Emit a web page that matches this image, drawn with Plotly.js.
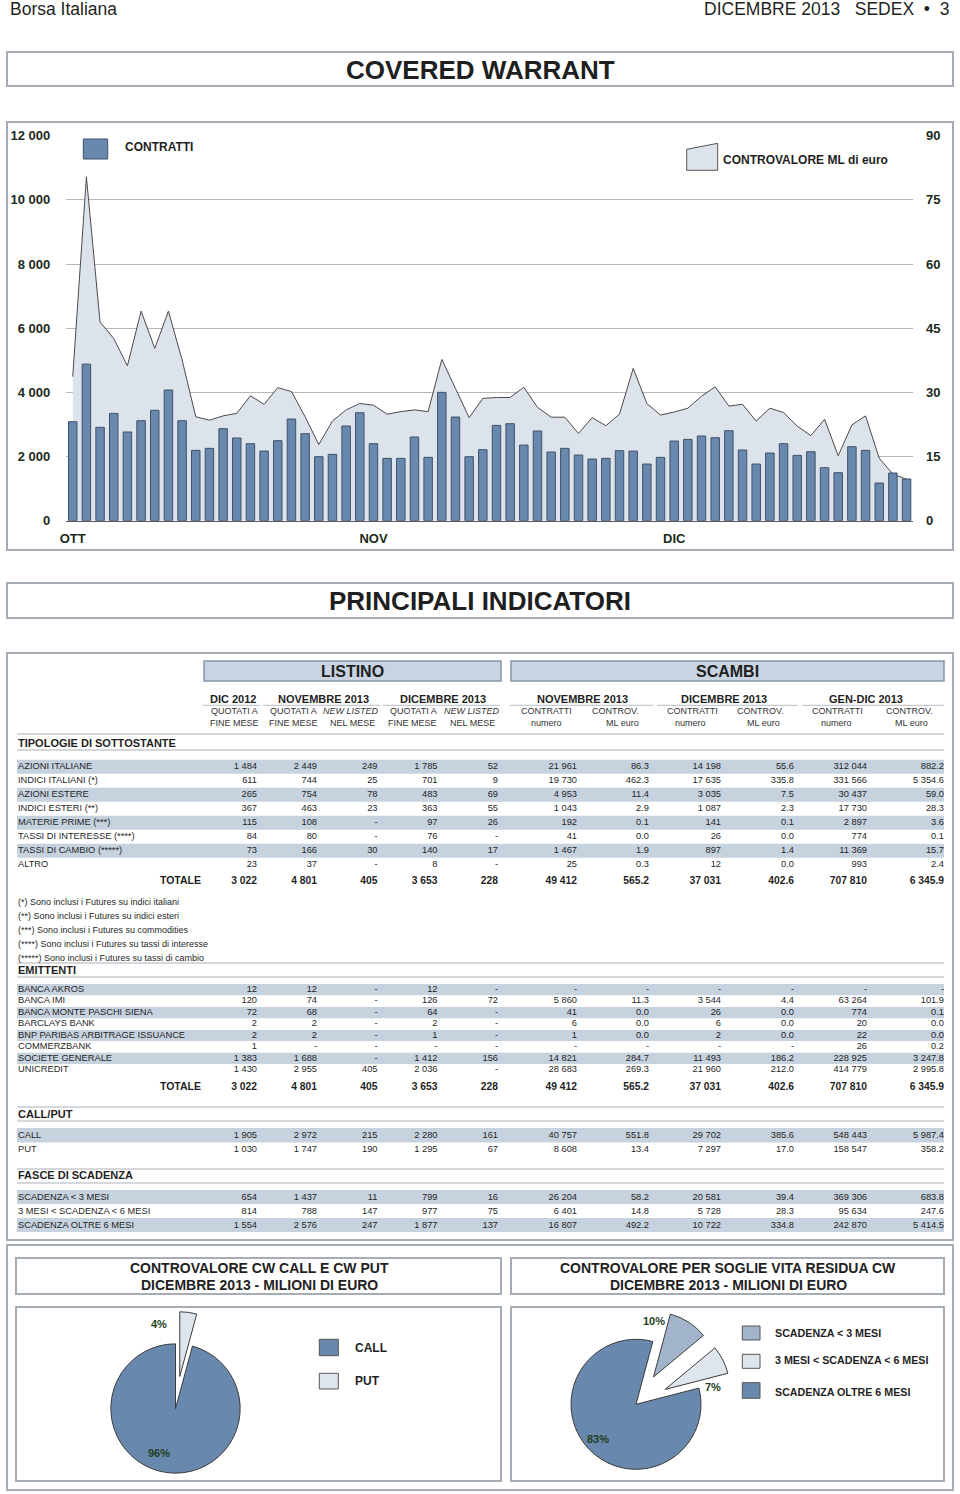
<!DOCTYPE html>
<html><head><meta charset="utf-8">
<script src="https://cdn.plot.ly/plotly-3.0.1.min.js"></script>
<style>
html,body{margin:0;padding:0;background:#fff;overflow:hidden;width:960px;height:1494px;}
#wrap{width:960px;height:1494px;overflow:hidden;}
#chart{width:960px;height:1512px;}
</style></head>
<body><div id="wrap"><div id="chart"></div></div>
<script>
// ---------------- DATA ----------------
const days = ['01/10','02/10','03/10','04/10','07/10','08/10','09/10','10/10','11/10','14/10','15/10','16/10','17/10','18/10','21/10','22/10','23/10','24/10','25/10','28/10','29/10','30/10','31/10',
 '01/11','04/11','05/11','06/11','07/11','08/11','11/11','12/11','13/11','14/11','15/11','18/11','19/11','20/11','21/11','22/11','25/11','26/11','27/11','28/11','29/11',
 '02/12','03/12','04/12','05/12','06/12','09/12','10/12','11/12','12/12','13/12','16/12','17/12','18/12','19/12','20/12','23/12','27/12','30/12'];
const contratti = [3086,4880,2910,3345,2765,3117,3440,4073,3117,2192,2255,2868,2577,2400,2171,2494,3169,2712,1995,2068,2951,3366,2400,
 1943,1943,2608,1974,4000,3231,1995,2213,2971,3023,2358,2795,2140,2255,2047,1922,1943,2182,2171,1766,1974,
 2483,2535,2639,2587,2805,2203,1766,2109,2400,2036,2151,1652,1496,2306,2192,1174,1486,1299];
const controvalore = [33.7,80.4,46.4,42.6,36.2,49.0,40.3,49.0,37.6,24.3,23.5,24.5,25.1,29.2,27.2,31.1,30.2,24.3,17.8,23.3,25.9,27.4,27.0,
 24.9,25.5,25.9,25.5,37.7,30.9,24.1,28.6,28.8,28.8,31.2,26.5,24.2,24.2,20.4,24.1,22.2,24.9,35.6,27.4,24.7,
 25.4,26.3,29.1,31.3,26.8,27.2,23.3,26.3,25.3,22.1,19.9,23.7,15.2,22.4,24.5,14.6,10.9,9.7];
const seriesNames = ['CONTRATTI','CONTROVALORE ML di euro'];
const monthLabels = ['OTT','NOV','DIC'];
const monthTickIdx = [0,22,44];
const leftTicks = [0,2000,4000,6000,8000,10000,12000];
const rightTicks = [0,15,30,45,60,75,90];

const blockTitles = ['LISTINO','SCAMBI'];
const groupTitles = ['DIC 2012','NOVEMBRE 2013','DICEMBRE 2013','NOVEMBRE 2013','DICEMBRE 2013','GEN-DIC 2013'];
const colSub1 = ['QUOTATI A','QUOTATI A','NEW LISTED','QUOTATI A','NEW LISTED','CONTRATTI','CONTROV.','CONTRATTI','CONTROV.','CONTRATTI','CONTROV.'];
const colSub2 = ['FINE MESE','FINE MESE','NEL MESE','FINE MESE','NEL MESE','numero','ML euro','numero','ML euro','numero','ML euro'];
const colDecimals = [0,0,0,0,0,0,1,0,1,0,1];

const sectionTitles = ['TIPOLOGIE DI SOTTOSTANTE','EMITTENTI','CALL/PUT','FASCE DI SCADENZA'];
const totalLabel = 'TOTALE';

const tipLabels = ['AZIONI ITALIANE','INDICI ITALIANI (*)','AZIONI ESTERE','INDICI ESTERI (**)','MATERIE PRIME (***)','TASSI DI INTERESSE (****)','TASSI DI CAMBIO (*****)','ALTRO'];
const tipValues = [
 [1484,2449,249,1785,52,21961,86.3,14198,55.6,312044,882.2],
 [611,744,25,701,9,19730,462.3,17635,335.8,331566,5354.6],
 [265,754,78,483,69,4953,11.4,3035,7.5,30437,59.0],
 [367,463,23,363,55,1043,2.9,1087,2.3,17730,28.3],
 [115,108,null,97,26,192,0.1,141,0.1,2897,3.6],
 [84,80,null,76,null,41,0.0,26,0.0,774,0.1],
 [73,166,30,140,17,1467,1.9,897,1.4,11369,15.7],
 [23,37,null,8,null,25,0.3,12,0.0,993,2.4]];
const tipTotal = [3022,4801,405,3653,228,49412,565.2,37031,402.6,707810,6345.9];

const notes = ['(*) Sono inclusi i Futures su indici italiani','(**) Sono inclusi i Futures su indici esteri','(***) Sono inclusi i Futures su commodities','(****) Sono inclusi i Futures su tassi di interesse','(*****) Sono inclusi i Futures su tassi di cambio'];

const emiLabels = ['BANCA AKROS','BANCA IMI','BANCA MONTE PASCHI SIENA','BARCLAYS BANK','BNP PARIBAS ARBITRAGE ISSUANCE','COMMERZBANK','SOCIETE GENERALE','UNICREDIT'];
const emiValues = [
 [12,12,null,12,null,null,null,null,null,null,null],
 [120,74,null,126,72,5860,11.3,3544,4.4,63264,101.9],
 [72,68,null,64,null,41,0.0,26,0.0,774,0.1],
 [2,2,null,2,null,6,0.0,6,0.0,20,0.0],
 [2,2,null,1,null,1,0.0,2,0.0,22,0.0],
 [1,null,null,null,null,null,null,null,null,26,0.2],
 [1383,1688,null,1412,156,14821,284.7,11493,186.2,228925,3247.8],
 [1430,2955,405,2036,null,28683,269.3,21960,212.0,414779,2995.8]];
const emiTotal = [3022,4801,405,3653,228,49412,565.2,37031,402.6,707810,6345.9];

const cpLabels = ['CALL','PUT'];
const cpValues = [
 [1905,2972,215,2280,161,40757,551.8,29702,385.6,548443,5987.4],
 [1030,1747,190,1295,67,8608,13.4,7297,17.0,158547,358.2]];

const fasLabels = ['SCADENZA < 3 MESI','3 MESI < SCADENZA < 6 MESI','SCADENZA OLTRE 6 MESI'];
const fasValues = [
 [654,1437,11,799,16,26204,58.2,20581,39.4,369306,683.8],
 [814,788,147,977,75,6401,14.8,5728,28.3,95634,247.6],
 [1554,2576,247,1877,137,16807,492.2,10722,334.8,242870,5414.5]];

const pageTitles = ['COVERED WARRANT','PRINCIPALI INDICATORI'];
const pieTitles = [['CONTROVALORE CW CALL E CW PUT','DICEMBRE 2013 - MILIONI DI EURO'],['CONTROVALORE PER SOGLIE VITA RESIDUA CW','DICEMBRE 2013 - MILIONI DI EURO']];
const headerLeft = 'Borsa Italiana';
const headerRight = 'DICEMBRE 2013   SEDEX  \u2022  3';

// ---------------- LAYOUT CONSTANTS ----------------
const W = 960, H = 1512;
const FONT = 'Liberation Sans, Arial, Helvetica, sans-serif';
const DARK = '#1f1f1f';
const BAR = '#6888ae', BAR_LINE = '#3f526a', AREA = '#dde3eb', AREA_LINE = '#4a4a4a';
const MID = '#a2b4cb', LIGHT = '#dfe5ed';
const BAND = '#c7d2df', FRAME = '#a5acb3', RULE = '#c6cbd1';
const LABEL_GREEN = '#233f23';
const py = y => 1 - y / H, pxx = x => x / W;

function fmt(v, d) {
  if (v === null || v === undefined) return '-';
  const s = v.toFixed(d);
  const parts = s.split('.');
  const i = parts[0].replace(/\B(?=(\d{3})+(?!\d))/g, ' ');
  return parts.length > 1 ? i + '.' + parts[1] : i;
}

const colRight = [257, 317, 377.5, 437.5, 498, 577, 649, 721, 794, 867, 944];
const sub1X = [234, 293, 351, 413, 472, 546, 615, 692, 760.5, 837, 909];
const sub2X = [234, 293, 352.5, 412.5, 472.5, 546, 622.5, 690.5, 763, 836, 911];
const groupX = [233, 323, 443, 582, 724, 865.5];
const groupLine = [[203,260],[263,380],[383,500],[510,653],[657,798],[802,944]];

// ---------------- TRACES ----------------
const traces = [];
traces.push({type:'scatter', x: days, y: controvalore, xaxis:'x', yaxis:'y', mode:'lines', fill:'tozeroy',
  fillcolor: AREA, line:{color:AREA_LINE, width:1}, hoverinfo:'skip', showlegend:false});
traces.push({type:'bar', x: days, y: contratti, xaxis:'x', yaxis:'y2',
  marker:{color:BAR, line:{color:BAR_LINE, width:1}}, hoverinfo:'skip', showlegend:false});

// table rows
const rows = [];
tipLabels.forEach((l,i) => rows.push({label:l, vals:tipValues[i], y:767 + i*14}));
rows.push({label:totalLabel, vals:tipTotal, y:881.5, total:true});
emiLabels.forEach((l,i) => rows.push({label:l, vals:emiValues[i], y:989.7 + i*11.45}));
rows.push({label:totalLabel, vals:emiTotal, y:1087.3, total:true});
cpLabels.forEach((l,i) => rows.push({label:l, vals:cpValues[i], y:1135.7 + i*14.3}));
fasLabels.forEach((l,i) => rows.push({label:l, vals:fasValues[i], y:1197.3 + i*14}));

const tx = {type:'scatter', mode:'text', xaxis:'x3', yaxis:'y3', hoverinfo:'skip', showlegend:false, cliponaxis:false};
const plain = rows.filter(r => !r.total), tots = rows.filter(r => r.total);
traces.push(Object.assign({}, tx, {x: plain.map(() => 18), y: plain.map(r => r.y), text: plain.map(r => r.label),
  textposition:'middle right', textfont:{family:FONT, size:9.3, color:DARK}}));
traces.push(Object.assign({}, tx, {x: tots.map(() => 201), y: tots.map(r => r.y), text: tots.map(r => '<b>' + r.label + '</b>'),
  textposition:'middle left', textfont:{family:FONT, size:10.5, color:DARK}}));
for (let c = 0; c < 11; c++) {
  traces.push(Object.assign({}, tx, {x: rows.map(() => colRight[c]), y: rows.map(r => r.y),
    text: rows.map(r => r.total ? '<b>' + fmt(r.vals[c], colDecimals[c]) + '</b>' : fmt(r.vals[c], colDecimals[c])),
    textposition:'middle left', textfont:{family:FONT, size: rows.map(r => r.total ? 10.3 : 9.3), color:DARK}}));
}
const sectionY = [744, 971, 1115, 1176.7];
traces.push(Object.assign({}, tx, {x: sectionY.map(() => 18), y: sectionY, text: sectionTitles.map(s => '<b>' + s + '</b>'),
  textposition:'middle right', textfont:{family:FONT, size:11, color:DARK}}));
traces.push(Object.assign({}, tx, {x: notes.map(() => 18), y: notes.map((n,i) => 903 + i*14), text: notes,
  textposition:'middle right', textfont:{family:FONT, size:9, color:DARK}}));

// pies
const cpCtv = cpValues.map(r => r[8]);
const fasCtv = fasValues.map(r => r[8]);
const pieL = {cx:175.5, cy:1408.5, h:97}, pieR = {cx:636, cy:1404.3, h:97.5};
traces.push({type:'pie', labels:[cpLabels[1], cpLabels[0]], values:[cpCtv[1], cpCtv[0]], sort:false,
  direction:'counterclockwise', rotation:0, pull:[0.5, 0], textinfo:'none', hoverinfo:'skip', showlegend:false,
  marker:{colors:[LIGHT, BAR], line:{color:'#3c3c3c', width:1}},
  domain:{x:[pxx(pieL.cx-pieL.h), pxx(pieL.cx+pieL.h)], y:[py(pieL.cy+pieL.h), py(pieL.cy-pieL.h)]}});
traces.push({type:'pie', labels:fasLabels, values:fasCtv, sort:false,
  direction:'clockwise', rotation:15, pull:[0.5, 0.5, 0], textinfo:'none', hoverinfo:'skip', showlegend:false,
  marker:{colors:[MID, LIGHT, BAR], line:{color:'#3c3c3c', width:1}},
  domain:{x:[pxx(pieR.cx-pieR.h), pxx(pieR.cx+pieR.h)], y:[py(pieR.cy+pieR.h), py(pieR.cy-pieR.h)]}});

// ---------------- SHAPES & ANNOTATIONS ----------------
const shapes = [], ann = [];
const rect = (x0,y0,x1,y1,o) => shapes.push(Object.assign({type:'rect', xref:'x3', yref:'y3', x0, y0, x1, y1,
  line:{color:FRAME, width:2}, fillcolor:'rgba(0,0,0,0)', layer:'above'}, o||{}));
const hline = (x0,x1,y,color,w) => shapes.push({type:'line', xref:'x3', yref:'y3', x0, x1, y0:y, y1:y, line:{color, width:w}, layer:'below'});
const text = (x,y,t,o) => ann.push(Object.assign({xref:'x3', yref:'y3', x, y, text:t, showarrow:false,
  xanchor:'center', yanchor:'middle', font:{family:FONT, size:12, color:DARK}}, o||{}));

// frames
rect(7,52,953,86); rect(7,122,953,550); rect(7,583,953,618); rect(7,653,953,1240); rect(7,1245,953,1490);
rect(16,1258,501,1294); rect(511,1258,944,1294); rect(16,1307,501,1481); rect(511,1307,944,1481);

// page header
text(8, 8.5, headerLeft, {xanchor:'left', font:{family:FONT, size:17.5, color:DARK}});
text(951, 8.5, headerRight, {xanchor:'right', font:{family:FONT, size:17.5, color:DARK}});
text(480, 70, '<b>' + pageTitles[0] + '</b>', {font:{family:FONT, size:26, color:DARK}});
text(480, 601, '<b>' + pageTitles[1] + '</b>', {font:{family:FONT, size:26, color:DARK}});

// chart legend
rect(83.3,139,107.7,159,{fillcolor:BAR, line:{color:BAR_LINE, width:1}});
text(123, 147, '<b>' + seriesNames[0] + '</b>', {xanchor:'left', font:{family:FONT, size:12, color:DARK}});
shapes.push({type:'path', xref:'x3', yref:'y3', path:'M686.7,149.3 L717.7,143.3 L717.7,170.3 L686.7,170.3 Z',
  fillcolor:AREA, line:{color:'#555', width:1}, layer:'above'});
text(721, 160, '<b>' + seriesNames[1] + '</b>', {xanchor:'left', font:{family:FONT, size:12, color:DARK}});

// table header
rect(204,661,501,681,{fillcolor:'#c8d4e2', line:{color:'#8495aa', width:1.5}, layer:'below'});
rect(511,661,944,681,{fillcolor:'#c8d4e2', line:{color:'#8495aa', width:1.5}, layer:'below'});
text(352.5, 671, '<b>' + blockTitles[0] + '</b>', {font:{family:FONT, size:16, color:DARK}});
text(727.5, 671, '<b>' + blockTitles[1] + '</b>', {font:{family:FONT, size:16, color:DARK}});
groupTitles.forEach((g,i) => {
  text(groupX[i], 699.3, '<b>' + g + '</b>', {font:{family:FONT, size:11, color:DARK}});
  hline(groupLine[i][0], groupLine[i][1], 705.3, RULE, 1.3);
});
colSub1.forEach((s,i) => text(sub1X[i], 711.3, s === 'NEW LISTED' ? '<i>' + s + '</i>' : s, {font:{family:FONT, size:9, color:'#333'}}));
colSub2.forEach((s,i) => text(sub2X[i], 723, s, {font:{family:FONT, size:9, color:'#333'}}));

// section rules
[[734,750],[963,977],[1107,1121],[1169,1183]].forEach(p => { hline(17,944,p[0],RULE,1.5); hline(17,944,p[1],RULE,1.5); });

// row bands
tipLabels.forEach((l,i) => { if (i % 2 === 0) rect(17, 767 + i*14 - 7.3, 944, 767 + i*14 + 6.7, {fillcolor:BAND, line:{width:0}, layer:'below'}); });
emiLabels.forEach((l,i) => { if (i % 2 === 0) rect(17, 989.7 + i*11.45 - 5.6, 944, 989.7 + i*11.45 + 5.6, {fillcolor:BAND, line:{width:0}, layer:'below'}); });
rect(17, 1135.7 - 7.6, 944, 1135.7 + 6.8, {fillcolor:BAND, line:{width:0}, layer:'below'});
fasLabels.forEach((l,i) => { if (i % 2 === 0) rect(17, 1197.3 + i*14 - 7.2, 944, 1197.3 + i*14 + 6.6, {fillcolor:BAND, line:{width:0}, layer:'below'}); });

// pie titles
text(259, 1268.3, '<b>' + pieTitles[0][0] + '</b>', {font:{family:FONT, size:14, color:DARK}});
text(259, 1285, '<b>' + pieTitles[0][1] + '</b>', {font:{family:FONT, size:14, color:DARK}});
text(728, 1268.3, '<b>' + pieTitles[1][0] + '</b>', {font:{family:FONT, size:14, color:DARK}});
text(728, 1285, '<b>' + pieTitles[1][1] + '</b>', {font:{family:FONT, size:14, color:DARK}});

// pie percentage labels
const pct = (v, arr) => Math.round(v / arr.reduce((a,b) => a+b, 0) * 100) + '%';
const pf = {family:FONT, size:11, color:LABEL_GREEN};
text(159.3, 1324, '<b>' + pct(cpCtv[1], cpCtv) + '</b>', {font:pf});
text(159.3, 1452.7, '<b>' + pct(cpCtv[0], cpCtv) + '</b>', {font:pf});
text(654.3, 1321.3, '<b>' + pct(fasCtv[0], fasCtv) + '</b>', {font:pf});
text(713.3, 1386.7, '<b>' + pct(fasCtv[1], fasCtv) + '</b>', {font:pf});
text(597.7, 1439.3, '<b>' + pct(fasCtv[2], fasCtv) + '</b>', {font:pf});

// pie legends
const lgL = [{y0:1339.3, y1:1355.7, ty:1348.3, c:BAR, t:cpLabels[0]}, {y0:1373.3, y1:1389, ty:1380.7, c:LIGHT, t:cpLabels[1]}];
lgL.forEach(l => { rect(319.3, l.y0, 338.3, l.y1, {fillcolor:l.c, line:{color:'#555', width:1}});
  text(353, l.ty, '<b>' + l.t + '</b>', {xanchor:'left', font:{family:FONT, size:12, color:DARK}}); });
const lgR = [{y0:1326, y1:1340, ty:1332.7, c:MID}, {y0:1354.3, y1:1368.3, ty:1360.3, c:LIGHT}, {y0:1382.7, y1:1398.3, ty:1391.7, c:BAR}];
lgR.forEach((l,i) => { rect(742.3, l.y0, 760, l.y1, {fillcolor:l.c, line:{color:'#555', width:1}});
  text(772.5, l.ty, '<b>' + fasLabels[i] + '</b>', {xanchor:'left', font:{family:FONT, size:10.7, color:DARK}}); });

// ---------------- LAYOUT ----------------
const tickFont = {family:FONT, size:13, color:'#1b2a1b', weight:'bold'};
const layout = {
  width: W, height: H, margin:{l:0, r:0, t:0, b:0}, paper_bgcolor:'#fff', plot_bgcolor:'rgba(0,0,0,0)',
  showlegend:false, bargap:0.38, font:{family:FONT, color:DARK},
  xaxis:{domain:[pxx(65.9), pxx(913.4)], type:'category', anchor:'y', tickmode:'array',
    tickvals: monthTickIdx.map(i => days[i]), ticktext: monthLabels, tickfont: tickFont,
    ticks:'outside', ticklen:6, tickcolor:'rgba(0,0,0,0)', showline:true, linecolor:'#5a5a5a', linewidth:1,
    showgrid:false, zeroline:false, fixedrange:true},
  yaxis:{domain:[py(520.7), py(135.7)], range:[0,90], side:'right', anchor:'x', tickmode:'array', tickvals: rightTicks,
    ticktext: rightTicks.map(v => fmt(v,0)), tickfont: tickFont, showgrid:true, gridcolor:'#b7b7b7', gridwidth:1,
    zeroline:false, ticks:'outside', ticklen:9, tickcolor:'rgba(0,0,0,0)', fixedrange:true},
  yaxis2:{overlaying:'y', side:'left', anchor:'x', range:[0,12000], tickmode:'array', tickvals: leftTicks,
    ticktext: leftTicks.map(v => fmt(v,0)), tickfont: tickFont, showgrid:false, zeroline:false,
    ticks:'outside', ticklen:12, tickcolor:'rgba(0,0,0,0)', fixedrange:true},
  xaxis3:{domain:[0,1], range:[0,W], anchor:'y3', visible:false, fixedrange:true},
  yaxis3:{domain:[0,1], range:[H,0], anchor:'x3', visible:false, fixedrange:true},
  shapes, annotations: ann
};
Plotly.newPlot('chart', traces, layout, {staticPlot:true, displayModeBar:false});
</script>
</body></html>
